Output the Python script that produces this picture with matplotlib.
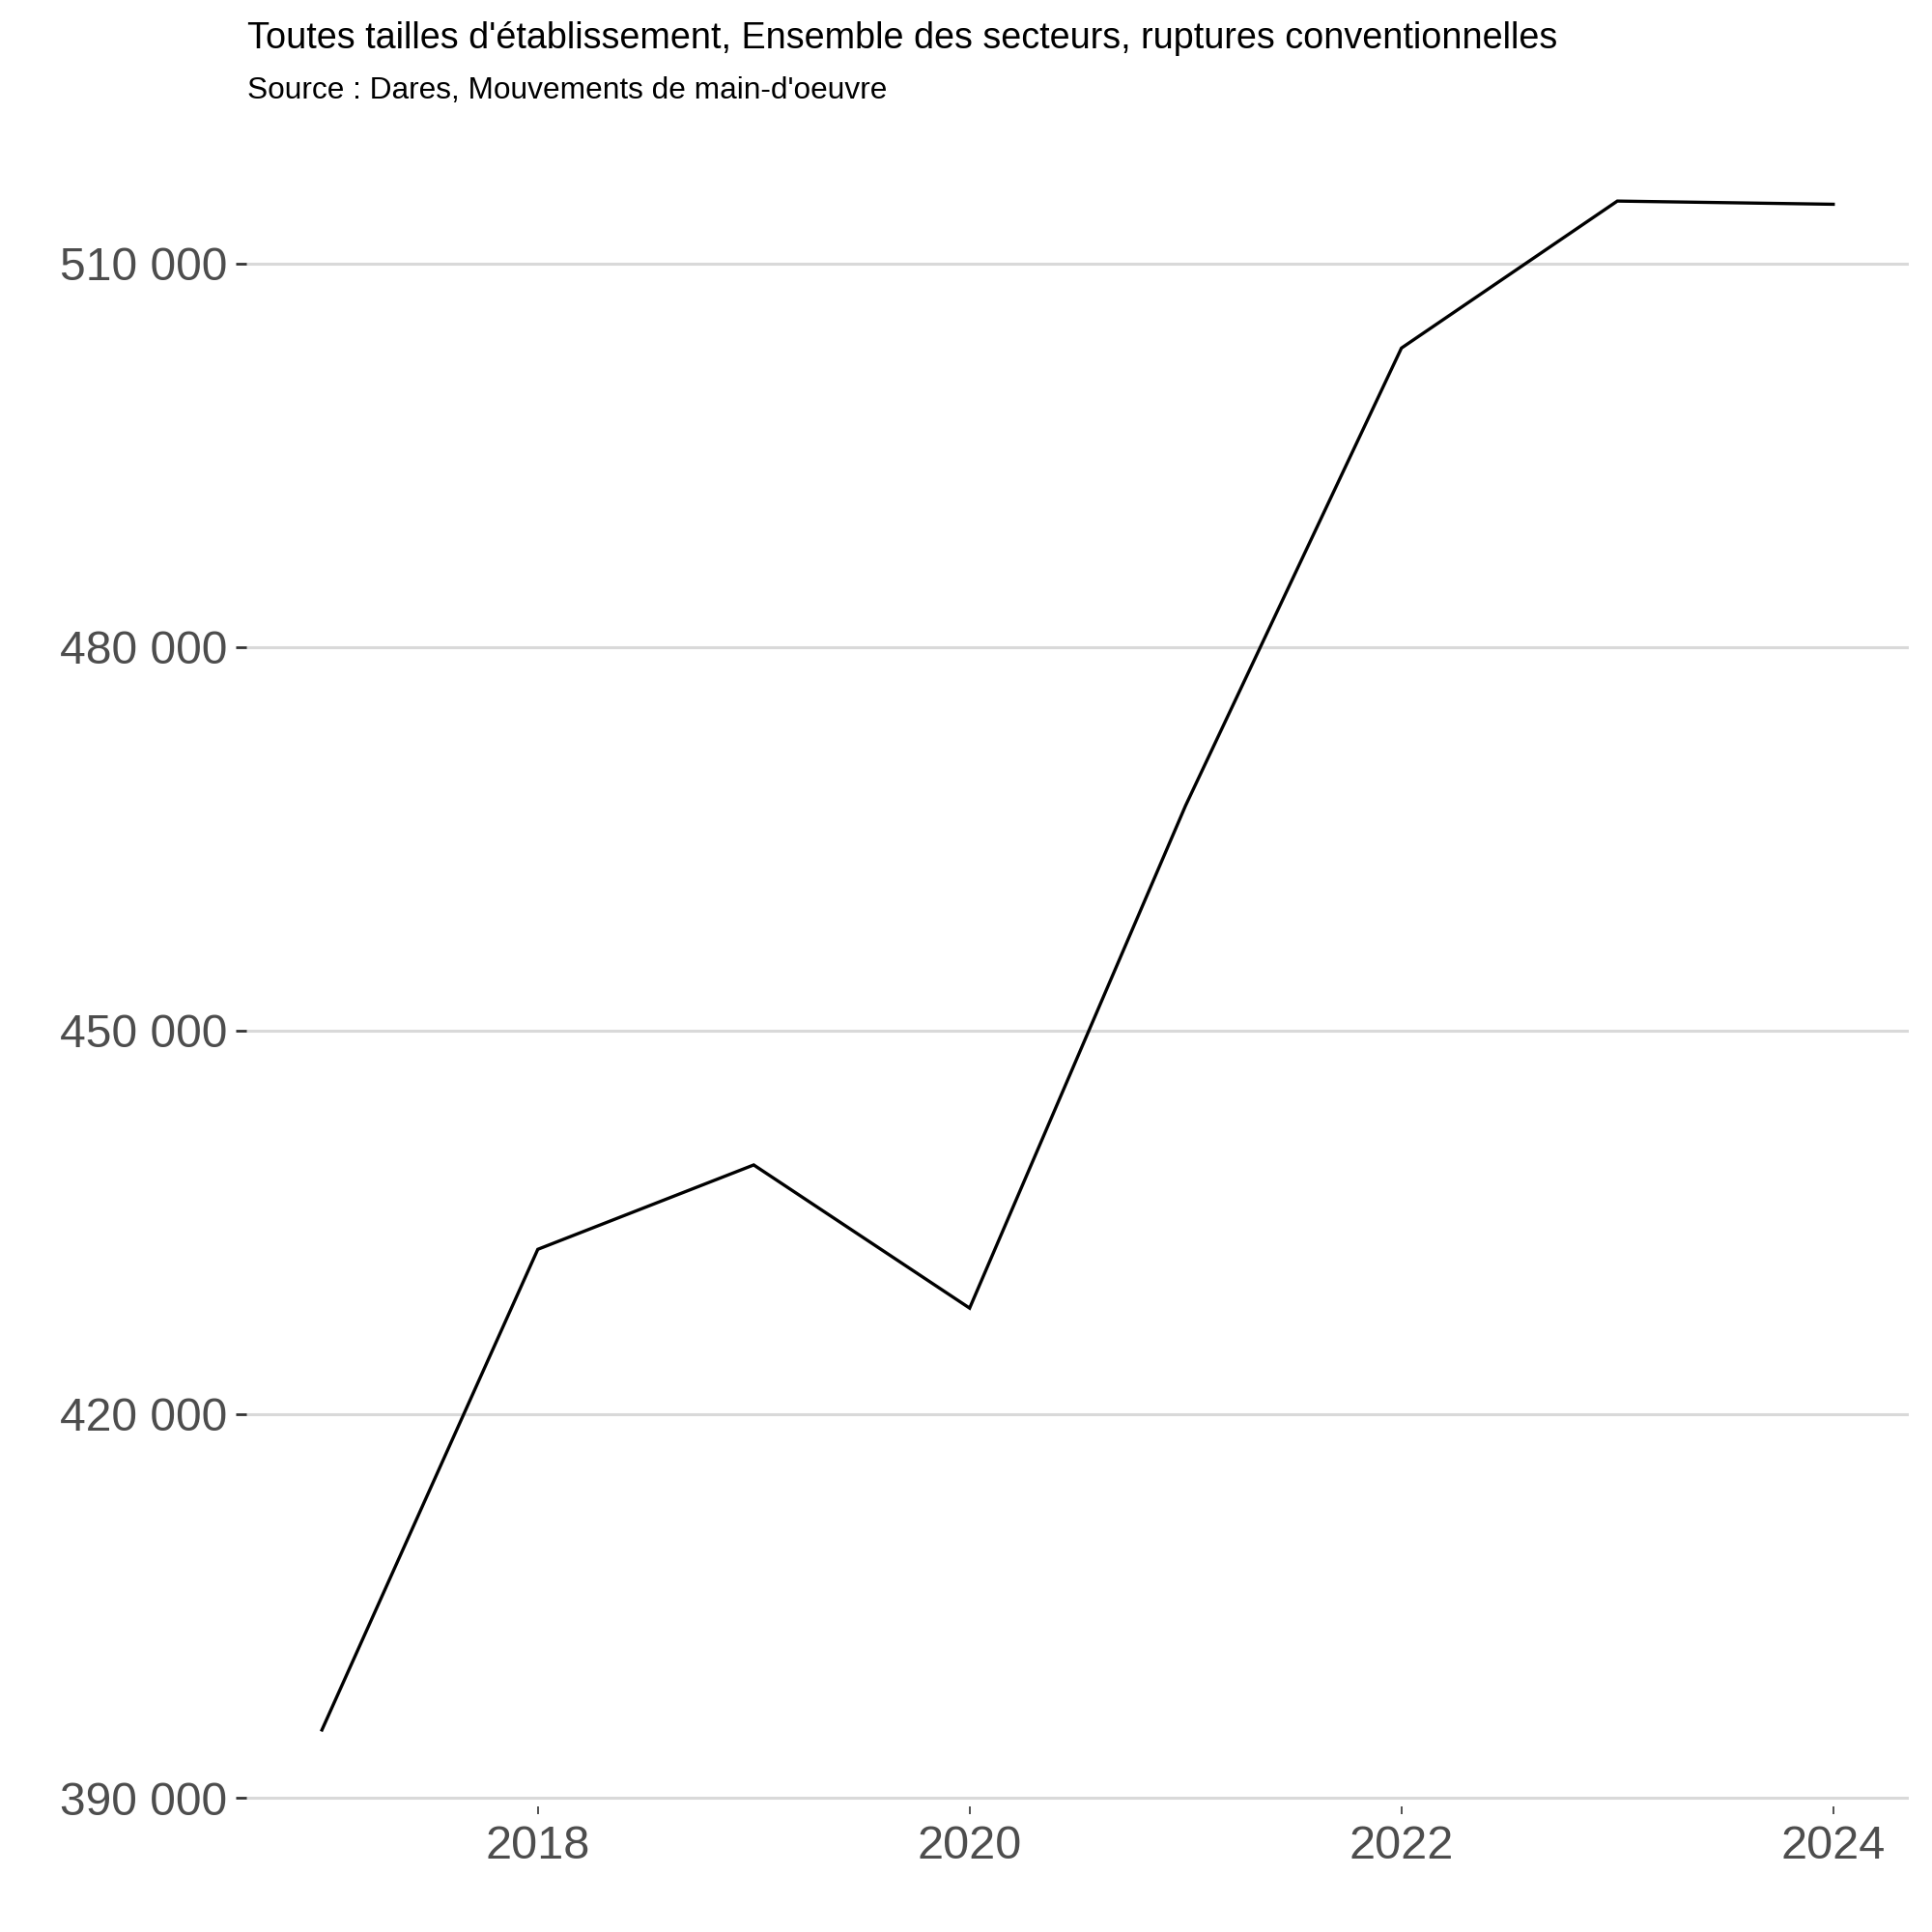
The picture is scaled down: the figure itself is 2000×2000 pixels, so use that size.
import matplotlib
matplotlib.use("Agg")
import matplotlib.pyplot as plt
from matplotlib.ticker import FuncFormatter

plt.rcParams['font.family'] = ['Liberation Sans', 'DejaVu Sans']

years = [2017, 2018, 2019, 2020, 2021, 2022, 2023, 2024]
ruptures = [395300, 432900, 439500, 428300, 467600, 503400, 514900, 514650]

y_ticks = [390000, 420000, 450000, 480000, 510000]
x_ticks = [2018, 2020, 2022, 2024]

title = "Toutes tailles d'établissement, Ensemble des secteurs, ruptures conventionnelles"
subtitle = "Source : Dares, Mouvements de main-d'oeuvre"

fig = plt.figure(figsize=(10, 10), dpi=200)
ax = fig.add_axes([0.1275, 0.065, 0.8605, 0.8705])

ax.plot(years, ruptures, color="black", linewidth=1.2, solid_joinstyle="miter")

# marge de 5% comme ggplot
ymin, ymax = min(ruptures), max(ruptures)
pad = 0.05 * (ymax - ymin)
ax.set_ylim(ymin - pad, ymax + pad)
ax.set_xlim(years[0] - 0.05 * (years[-1] - years[0]), years[-1] + 0.05 * (years[-1] - years[0]))

ax.set_yticks(y_ticks)
ax.set_xticks(x_ticks)
ax.yaxis.set_major_formatter(FuncFormatter(lambda v, p: "{:,.0f}".format(v).replace(",", " ")))

ax.grid(axis="y", color="#D9D9D9", linewidth=1.1)
ax.grid(axis="x", visible=False)
ax.set_axisbelow(True)
for s in ax.spines.values():
    s.set_visible(False)

ax.tick_params(axis="y", length=4, width=1.0, color="#333333", labelsize=17.3,
               labelcolor="#4D4D4D", pad=3)
ax.tick_params(axis="x", length=3, width=0.6, color="#333333", labelsize=17.5,
               labelcolor="#4D4D4D", pad=4)

fig.text(0.128, 0.980, title, fontsize=13.6, ha="left", va="center", color="black")
fig.text(0.128, 0.953, subtitle, fontsize=11.4, ha="left", va="center", color="black")

fig.savefig("out.png", dpi=200, facecolor="white")
